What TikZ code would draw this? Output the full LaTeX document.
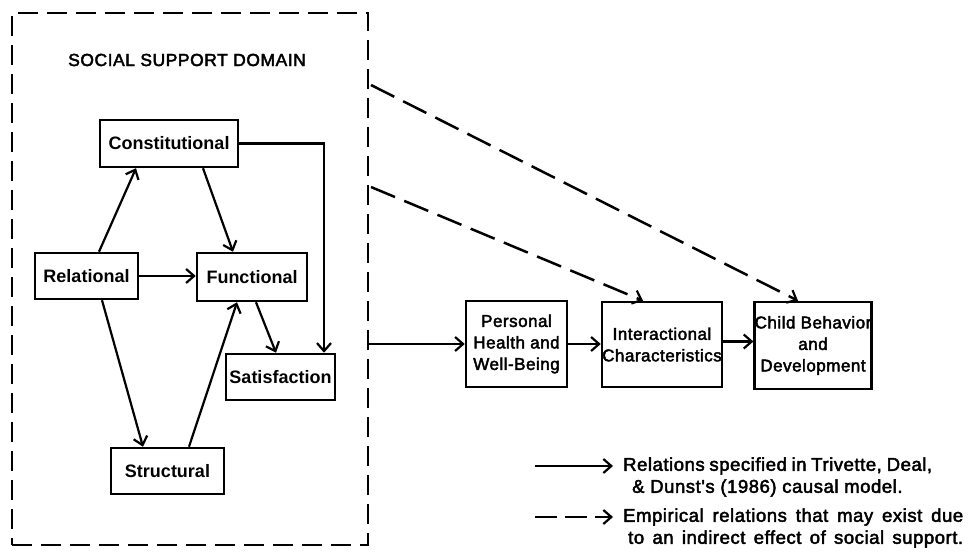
\documentclass[tikz,border=0pt]{standalone}
\usepackage{fontspec}
\setmainfont{Liberation Sans}
\newfontfamily\labfont{Liberation Sans Bold}
\newfontfamily\legfont{Liberation Sans}[FakeBold=2.5,LetterSpace=3]
\usetikzlibrary{arrows.meta}
\begin{document}
\begin{tikzpicture}[x=1pt,y=-1pt,
  box/.style={draw, line width=2.5pt, inner sep=0pt, align=center},
  lbox/.style={box, font=\labfont\fontsize{18}{22}\selectfont},
  rbox/.style={box, font=\legfont\fontsize{17}{21.5}\selectfont},
  arr/.style={line width=2.2pt, -{Straight Barb[length=8pt,width=14pt,line width=2.2pt]}},
  darr/.style={arr, line width=2.5pt, dash pattern=on 26pt off 10pt},
  legtext/.style={anchor=west, inner sep=0pt, font=\legfont\fontsize{18.5}{20}\selectfont}]
\useasboundingbox (0,0) rectangle (970,553);

% social support domain (dashed frame)
\node[draw, line width=2.2pt, dash pattern=on 20pt off 9pt, minimum width=356pt, minimum height=532pt, inner sep=0pt] (domain) at (190,279) {};
\node[font=\legfont\fontsize{17.5}{20}\selectfont] (title) at (187,60) {SOCIAL SUPPORT DOMAIN};

\node[lbox, minimum width=138pt, minimum height=47pt] (con) at (169,143.5) {Constitutional};
\node[lbox, minimum width=103pt, minimum height=46pt] (rel) at (86.5,276) {Relational};
\node[lbox, minimum width=110pt, minimum height=48pt] (fun) at (252,277) {Functional};
\node[lbox, minimum width=109pt, minimum height=46pt] (sat) at (280.5,377) {Satisfaction};
\node[lbox, minimum width=113pt, minimum height=46pt] (str) at (167.5,471) {Structural};

\node[rbox, minimum width=101pt, minimum height=86pt] (per) at (516.5,344) {Personal\\Health and\\Well-Being};
\node[rbox, minimum width=120pt, minimum height=85pt] (int) at (662,344.5) {Interactional\\Characteristics};
\node[rbox, minimum width=114pt, minimum height=87pt] (chi) at (813,345.5) {Child Behavior\\and\\Development};

% arrows inside the domain
\draw[arr] ([xshift=12.5pt]rel.north) -- ([xshift=-33pt]con.south);
\draw[arr] ([xshift=34pt]con.south) -- ([xshift=-19pt]fun.north);
\draw[arr] (rel.east) -- (rel.east -| fun.west);
\draw[arr] (con.east) -| ([xshift=43.5pt]sat.north);
\draw[arr] ([xshift=4pt]fun.south) -- ([xshift=-4.5pt]sat.north);
\draw[arr] ([xshift=15.5pt]rel.south) -- ([xshift=-24.5pt]str.north);
\draw[arr] ([xshift=21.5pt]str.north) -- ([xshift=-15pt]fun.south);

% main chain
\draw[arr] (domain.east |- per.west) -- (per.west);
\draw[arr] (per.east) -- (per.east -| int.west);
\draw[arr] ([yshift=3pt]int.east) -- ([yshift=3pt]int.east -| chi.west);

% dashed indirect effects
\coordinate (da) at (371,85);
\coordinate (db) at (371,187);
\draw[darr] (da) -- ([xshift=-15pt]chi.north);
\draw[darr] (db) -- ([xshift=-19pt]int.north);

% legend
\coordinate (l1a) at (535,466);
\coordinate (l1b) at (613,466);
\coordinate (l2a) at (535,517);
\coordinate (l2b) at (613,517);
\draw[arr] (l1a) -- (l1b);
\draw[arr, dash pattern=on 22pt off 8pt] (l2a) -- (l2b);
\node[legtext] (t1) at (623,466) {\makebox[309pt][s]{Relations specified in Trivette, Deal,}};
\node[legtext] (t2) at (632,488) {\& Dunst's (1986) causal model.};
\node[legtext] (t3) at (623,517) {\makebox[340pt][s]{Empirical relations that may exist due}};
\node[legtext] (t4) at (628,539) {\makebox[335pt][s]{to an indirect effect of social support.}};
\end{tikzpicture}
\end{document}
